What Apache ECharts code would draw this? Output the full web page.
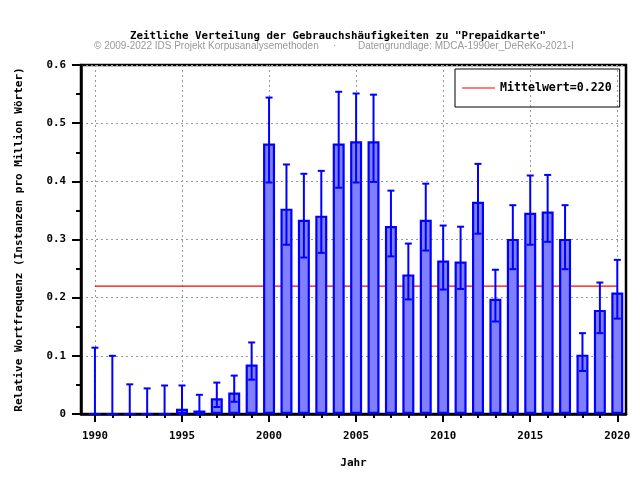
<!DOCTYPE html>
<html>
<head>
<meta charset="utf-8">
<script src="https://cdn.jsdelivr.net/npm/echarts@6/dist/echarts.min.js"></script>
<style>html,body{margin:0;padding:0;background:#fff}#c{width:640px;height:480px}</style>
</head>
<body>
<div id="c"></div>
<script>
const years = [1990,1991,1992,1993,1994,1995,1996,1997,1998,1999,2000,2001,2002,2003,2004,2005,2006,2007,2008,2009,2010,2011,2012,2013,2014,2015,2016,2017,2018,2019,2020];
const values = [0,0,0,0,0,0.009,0.006,0.027,0.037,0.085,0.465,0.353,0.334,0.341,0.465,0.469,0.469,0.323,0.240,0.334,0.264,0.262,0.365,0.198,0.301,0.346,0.348,0.301,0.102,0.179,0.209];
const errLow = [0,0,0,0,0,0,0,0.012,0.021,0.059,0.398,0.291,0.269,0.277,0.389,0.398,0.399,0.271,0.197,0.281,0.214,0.215,0.310,0.159,0.249,0.291,0.296,0.249,0.074,0.139,0.164];
const errHigh = [0.114,0.100,0.051,0.044,0.049,0.049,0.033,0.054,0.066,0.123,0.544,0.429,0.413,0.418,0.554,0.551,0.549,0.384,0.293,0.396,0.324,0.322,0.430,0.248,0.359,0.410,0.411,0.359,0.139,0.226,0.265];
const majorYears = [1990,1995,2000,2005,2010,2015,2020];
const meanValue = 0.220;
const meanRange = [1990, 2020];

const mono = '"DejaVu Sans Mono", "Liberation Mono", monospace';
const sans = '"Liberation Sans", Arial, sans-serif';
const chart = echarts.init(document.getElementById('c'), null, {renderer: 'canvas'});

const barData = years.map((y, i) => [y, values[i]]);
const errData = years.map((y, i) => [y, errLow[i], errHigh[i]]);

chart.setOption({
  animation: false,
  backgroundColor: '#fff',
  title: {
    text: 'Zeitliche Verteilung der Gebrauchshäufigkeiten zu "Prepaidkarte"',
    left: 333, textAlign: 'center', top: 26,
    textStyle: {fontFamily: mono, fontWeight: 'bold', fontSize: 10.8, color: '#000'}
  },
  graphic: [
    {type: 'text', left: 94, top: 41, style: {text: '© 2009-2022 IDS Projekt Korpusanalysemethoden', font: '10px ' + sans, fill: '#999999'}},
    {type: 'text', left: 333, top: 41, style: {text: '·', font: '10px ' + sans, fill: '#999999'}},
    {type: 'text', left: 358, top: 41, style: {text: 'Datengrundlage: MDCA-1990er_DeReKo-2021-I', font: '10px ' + sans, fill: '#999999'}}
  ],
  legend: {
    left: 455, top: 69,
    padding: [12, 8, 12, 7],
    borderColor: '#000', borderWidth: 1,
    itemWidth: 33, itemHeight: 1, itemGap: 6,
    icon: 'rect',
    data: ['Mittelwert=0.220'],
    textStyle: {fontFamily: mono, fontWeight: 'bold', fontSize: 11.6, color: '#000', lineHeight: 14}
  },
  grid: {left: 81, right: 14, top: 65, bottom: 66, show: true, borderColor: '#000', borderWidth: 2.5, backgroundColor: 'transparent'},
  xAxis: [
    {
      type: 'value', min: 1989.2, max: 2020.5, position: 'bottom',
      name: 'Jahr', nameLocation: 'middle', nameGap: 44,
      nameTextStyle: {fontFamily: mono, fontWeight: 'bold', fontSize: 11, color: '#000'},
      axisLine: {show: true, onZero: false, lineStyle: {color: '#000', width: 2.5}},
      axisTick: {show: true, customValues: majorYears, length: 8, lineStyle: {color: '#000', width: 2}},
      axisLabel: {show: true, customValues: majorYears, margin: 17, fontFamily: mono, fontWeight: 'bold', fontSize: 10.8, color: '#000', formatter: v => String(v)},
      splitLine: {show: true, lineStyle: {color: '#999', width: 1, type: [2, 3]}}
    },
    {
      type: 'value', min: 1989.2, max: 2020.5, position: 'bottom',
      axisLine: {show: false, onZero: false},
      axisTick: {show: true, customValues: years, length: 4, lineStyle: {color: '#000', width: 2}},
      axisLabel: {show: false},
      splitLine: {show: false}
    }
  ],
  yAxis: {
    type: 'value', min: 0, max: 0.6, interval: 0.1,
    name: 'Relative Wortfrequenz (Instanzen pro Million Wörter)',
    nameLocation: 'middle', nameGap: 56, nameRotate: 90,
    nameTextStyle: {fontFamily: mono, fontWeight: 'bold', fontSize: 11, color: '#000'},
    axisLine: {show: true, lineStyle: {color: '#000', width: 2.5}},
    axisTick: {show: true, length: 9, lineStyle: {color: '#000', width: 2}},
    minorTick: {show: true, splitNumber: 2, length: 5, lineStyle: {color: '#000', width: 2}},
    axisLabel: {margin: 15, fontFamily: mono, fontWeight: 'bold', fontSize: 10.8, color: '#000', formatter: v => v === 0 ? '0' : v.toFixed(1)},
    splitLine: {show: true, lineStyle: {color: '#999', width: 1, type: [2, 3]}}
  },
  series: [
    {
      name: 'Mittelwert=0.220', type: 'line', xAxisIndex: 0, z: 1,
      data: meanRange.map(x => [x, meanValue]),
      symbol: 'none', lineStyle: {color: '#ff0000', width: 1.3}, itemStyle: {color: '#ff0000'}
    },
    {
      type: 'bar', xAxisIndex: 0, z: 2, barWidth: 12,
      data: barData,
      itemStyle: {color: '#8080ff', borderColor: '#0000ff', borderWidth: 2.2}
    },
    {
      type: 'custom', xAxisIndex: 0, z: 3,
      data: errData,
      renderItem: function (params, api) {
        const x = api.value(0), lo = api.value(1), hi = api.value(2);
        const pLo = api.coord([x, lo]);
        const pHi = api.coord([x, hi]);
        const cap = 3.5;
        const st = {stroke: '#0000ff', lineWidth: 2};
        return {type: 'group', children: [
          {type: 'line', shape: {x1: pLo[0], y1: pLo[1], x2: pHi[0], y2: pHi[1]}, style: st},
          {type: 'line', shape: {x1: pHi[0] - cap, y1: pHi[1], x2: pHi[0] + cap, y2: pHi[1]}, style: st},
          {type: 'line', shape: {x1: pLo[0] - cap, y1: pLo[1], x2: pLo[0] + cap, y2: pLo[1]}, style: st}
        ]};
      }
    }
  ]
});
</script>
</body>
</html>
